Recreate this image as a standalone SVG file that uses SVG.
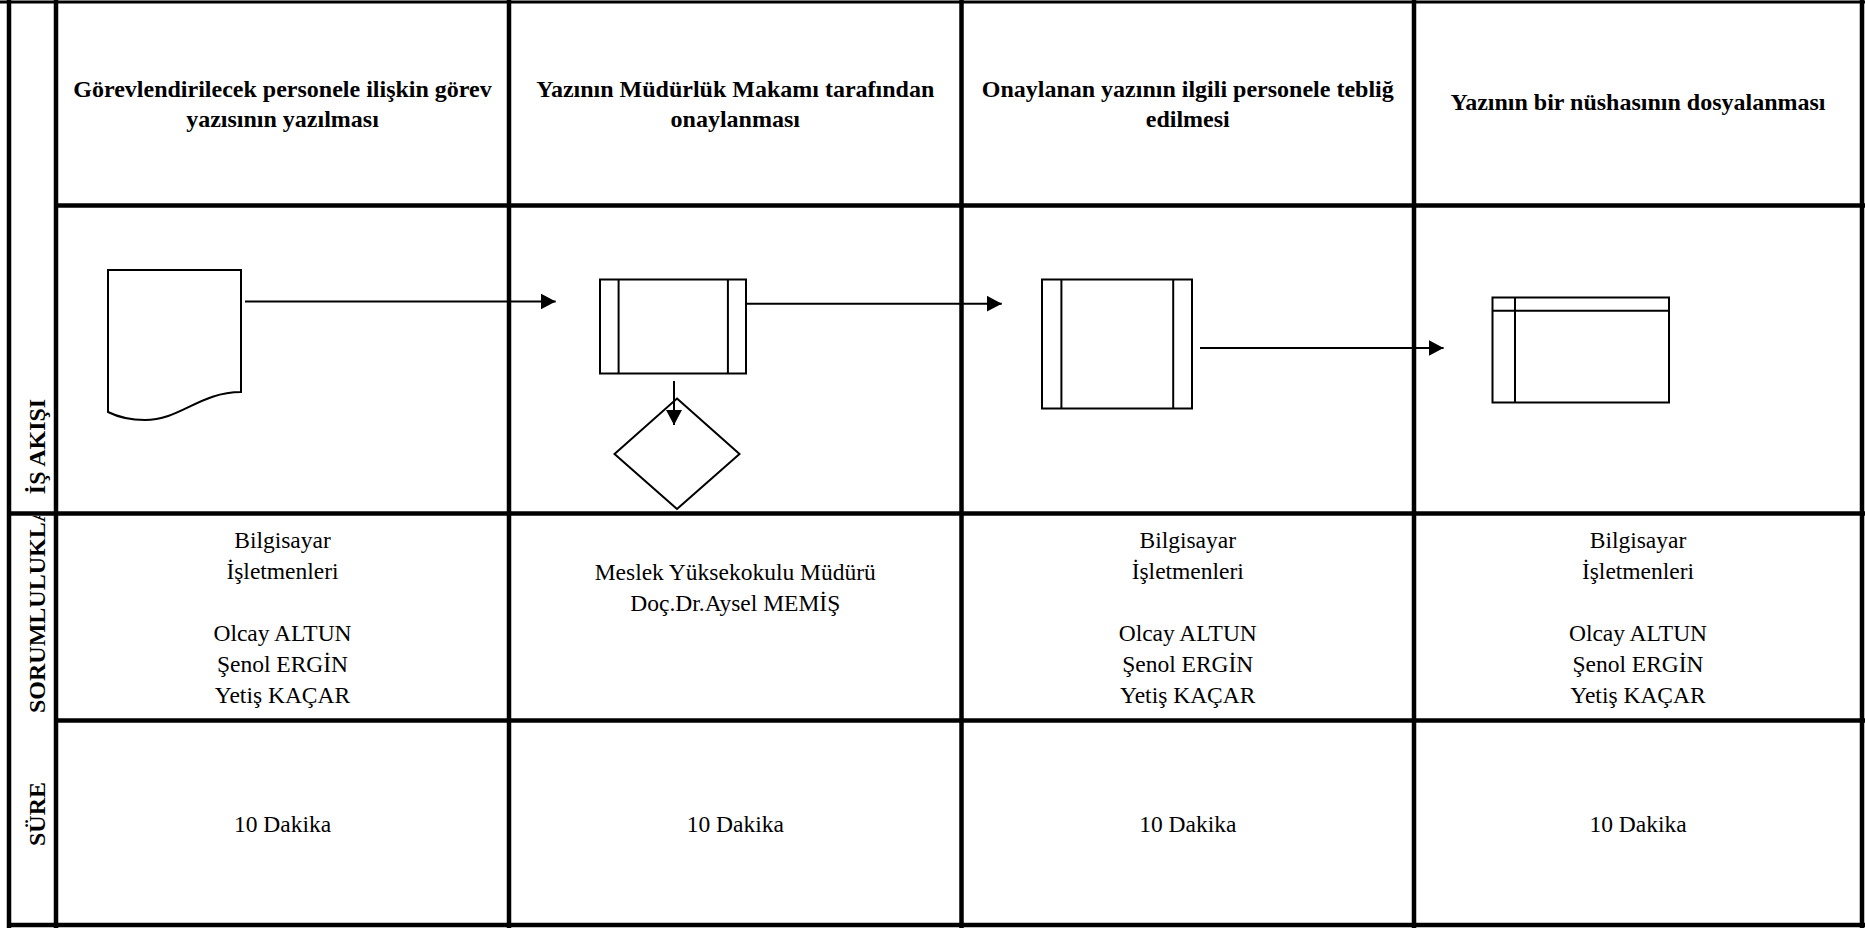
<svg xmlns="http://www.w3.org/2000/svg" width="1865" height="928" viewBox="0 0 1865 928">
<style>
.grid{stroke:#000;stroke-width:4.5;fill:none}
.shape{stroke:#000;stroke-width:2;fill:#fff}
.conn{stroke:#000;stroke-width:2;fill:none}
text{font-family:'Liberation Serif',Tinos,'Times New Roman',Times,'DejaVu Serif',serif;fill:#000}
.hdr{font-weight:bold;font-size:24px;text-anchor:middle}
.lbl{font-weight:bold;font-size:24px}
.body{font-size:23.5px;text-anchor:middle}
</style>
<defs>
<marker id="ah" markerWidth="15" markerHeight="16" refX="15" refY="8" orient="auto" markerUnits="userSpaceOnUse"><path d="M0,0 L15,8 L0,16 Z" fill="#000"/></marker>
<clipPath id="clipSor"><rect x="12" y="516" width="42" height="405"/></clipPath>
</defs>
<rect width="1865" height="928" fill="#fff"/>
<g id="table">
<line class="grid" x1="0" y1="2" x2="1865" y2="2" style="stroke-width:3"/>
<line class="grid" x1="9" y1="0" x2="9" y2="928"/>
<line class="grid" x1="56" y1="0" x2="56" y2="928"/>
<line class="grid" x1="509" y1="0" x2="509" y2="928"/>
<line class="grid" x1="961.5" y1="0" x2="961.5" y2="928"/>
<line class="grid" x1="1414" y1="0" x2="1414" y2="928"/>
<line class="grid" x1="1862" y1="0" x2="1862" y2="928"/>
<line class="grid" x1="56" y1="205.5" x2="1865" y2="205.5"/>
<line class="grid" x1="9" y1="513.5" x2="1865" y2="513.5"/>
<line class="grid" x1="56" y1="720.5" x2="1865" y2="720.5"/>
<line class="grid" x1="7" y1="925" x2="1865" y2="925"/>
</g>
<g id="labels">
<text class="lbl" font-family="Liberation Serif, serif" text-anchor="middle" transform="translate(45,446.5) rotate(-90)">İŞ AKIŞI</text>
<g clip-path="url(#clipSor)"><text class="lbl" font-family="Liberation Serif, serif" text-anchor="start" transform="translate(45,713) rotate(-90)">SORUMLULUKLA</text></g>
<text class="lbl" font-family="Liberation Serif, serif" text-anchor="middle" transform="translate(45,814) rotate(-90)">SÜRE</text>
</g>
<g id="headers">
<text class="hdr" x="282.5" y="97">Görevlendirilecek personele ilişkin görev</text>
<text class="hdr" x="282.5" y="127">yazısının yazılması</text>
<text class="hdr" x="735.25" y="97">Yazının Müdürlük Makamı tarafından</text>
<text class="hdr" x="735.25" y="127">onaylanması</text>
<text class="hdr" x="1187.75" y="97">Onaylanan yazının ilgili personele tebliğ</text>
<text class="hdr" x="1187.75" y="127">edilmesi</text>
<text class="hdr" x="1638" y="110">Yazının bir nüshasının dosyalanması</text>
</g>
<g id="node-document">
<path class="shape" d="M108,270 H241 V392 C200,392 180,420 145,420 C128,420 116,416 108,412 Z"/>
</g>
<g id="node-process1">
<rect class="shape" x="600" y="279.5" width="146" height="94"/>
<line class="conn" x1="618.6" y1="279.5" x2="618.6" y2="373.5"/>
<line class="conn" x1="727.9" y1="279.5" x2="727.9" y2="373.5"/>
</g>
<g id="node-decision">
<polygon class="shape" points="677,398.5 739.5,454 677,509 614.5,454"/>
</g>
<g id="node-process2">
<rect class="shape" x="1042" y="279.5" width="150" height="129"/>
<line class="conn" x1="1061.4" y1="279.5" x2="1061.4" y2="408.5"/>
<line class="conn" x1="1173.2" y1="279.5" x2="1173.2" y2="408.5"/>
</g>
<g id="node-storage">
<rect class="shape" x="1492.5" y="297.5" width="176.5" height="105"/>
<line class="conn" x1="1492.5" y1="310.7" x2="1669" y2="310.7"/>
<line class="conn" x1="1515" y1="297.5" x2="1515" y2="402.5"/>
</g>
<g id="connectors">
<line class="conn" x1="245" y1="301.5" x2="555.7" y2="301.5" marker-end="url(#ah)"/>
<line class="conn" x1="746" y1="303.7" x2="1001.8" y2="303.7" marker-end="url(#ah)"/>
<line class="conn" x1="674" y1="381" x2="674" y2="425" marker-end="url(#ah)"/>
<line class="conn" x1="1200" y1="348" x2="1443.6" y2="348" marker-end="url(#ah)"/>
</g>
<g id="responsibilities">
<text class="body" x="282.5" y="548.3">Bilgisayar</text>
<text class="body" x="282.5" y="579.3">İşletmenleri</text>
<text class="body" x="282.5" y="640.7">Olcay ALTUN</text>
<text class="body" x="282.5" y="671.7">Şenol ERGİN</text>
<text class="body" x="282.5" y="702.7">Yetiş KAÇAR</text>
<text class="body" x="735.25" y="580">Meslek Yüksekokulu Müdürü</text>
<text class="body" x="735.25" y="610.7">Doç.Dr.Aysel MEMİŞ</text>
<text class="body" x="1187.75" y="548.3">Bilgisayar</text>
<text class="body" x="1187.75" y="579.3">İşletmenleri</text>
<text class="body" x="1187.75" y="640.7">Olcay ALTUN</text>
<text class="body" x="1187.75" y="671.7">Şenol ERGİN</text>
<text class="body" x="1187.75" y="702.7">Yetiş KAÇAR</text>
<text class="body" x="1638" y="548.3">Bilgisayar</text>
<text class="body" x="1638" y="579.3">İşletmenleri</text>
<text class="body" x="1638" y="640.7">Olcay ALTUN</text>
<text class="body" x="1638" y="671.7">Şenol ERGİN</text>
<text class="body" x="1638" y="702.7">Yetiş KAÇAR</text>
</g>
<g id="durations">
<text class="body" x="282.5" y="831.7">10 Dakika</text>
<text class="body" x="735.25" y="831.7">10 Dakika</text>
<text class="body" x="1187.75" y="831.7">10 Dakika</text>
<text class="body" x="1638" y="831.7">10 Dakika</text>
</g>
</svg>
